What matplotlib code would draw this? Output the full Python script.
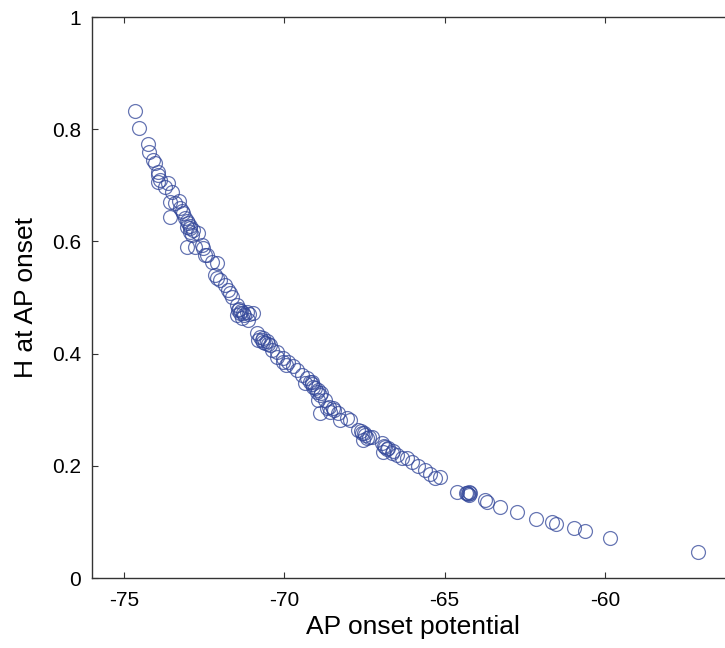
import matplotlib
matplotlib.use("Agg")
import matplotlib.pyplot as plt

plt.rcParams['font.family'] = ['Liberation Sans', 'DejaVu Sans']

# AP onset potential (mV) and H value at onset
onset_v = [
    -74.66, -74.53, -74.25, -74.22, -74.10, -74.04, -73.94, -73.94, -73.88, -73.94,
    -73.63, -73.72, -73.50, -73.57, -73.41, -73.57, -73.26, -73.16, -73.10, -73.00,
    -73.04, -72.94, -72.94, -72.88, -72.70, -73.04, -72.79, -72.54, -72.41,
    -73.05, -72.95, -72.85, -73.20, -73.30,
    -72.57, -72.48, -72.26, -72.10, -72.16, -72.10, -72.00, -71.85, -71.76, -71.70,
    -71.63, -71.48, -71.45, -71.39, -71.48, -71.29, -71.17, -70.98, -71.32, -71.14,
    -71.35, -71.25, -71.10, -71.40,
    -70.86, -70.76, -70.82, -70.67, -70.60, -70.45, -70.39, -70.23, -70.23, -70.04,
    -70.70, -70.65, -70.55, -70.50, -70.05, -69.95,
    -69.89, -69.73, -69.61,
    -69.45, -69.30, -69.36, -69.14, -69.11, -68.98, -68.89, -68.95, -68.73, -68.89,
    -69.20, -69.05, -68.95, -68.85, -69.15,
    -68.67, -68.58, -68.49, -68.33, -68.27, -68.05, -67.96, -67.71, -67.58, -67.49,
    -68.60, -68.45, -67.60, -67.50, -67.35,
    -67.43, -67.55, -67.27, -66.96, -66.86, -66.77, -66.93, -66.64, -66.49, -66.33,
    -66.18, -66.90, -66.80, -66.60,
    -66.02, -65.83, -65.62, -65.46, -65.30, -65.15, -64.62, -64.34, -64.28, -64.21,
    -64.24, -64.30, -64.25,
    -63.75, -63.68, -63.28, -62.75, -62.16, -61.66, -61.53, -60.97, -60.63,
    -59.85, -57.10,
]
h_onset = [
    0.832, 0.802, 0.774, 0.759, 0.745, 0.740, 0.724, 0.718, 0.709, 0.706,
    0.704, 0.697, 0.688, 0.670, 0.668, 0.643, 0.660, 0.651, 0.642, 0.633,
    0.626, 0.624, 0.617, 0.611, 0.615, 0.590, 0.590, 0.588, 0.576,
    0.636, 0.628, 0.620, 0.655, 0.672,
    0.594, 0.576, 0.563, 0.561, 0.540, 0.535, 0.531, 0.522, 0.513, 0.508,
    0.501, 0.487, 0.478, 0.472, 0.469, 0.472, 0.474, 0.472, 0.463, 0.460,
    0.476, 0.468, 0.470, 0.480,
    0.437, 0.430, 0.424, 0.428, 0.419, 0.415, 0.406, 0.403, 0.394, 0.392,
    0.425, 0.420, 0.423, 0.417, 0.385, 0.380,
    0.385, 0.378, 0.371,
    0.362, 0.357, 0.348, 0.349, 0.340, 0.332, 0.326, 0.317, 0.317, 0.294,
    0.350, 0.338, 0.336, 0.330, 0.345,
    0.303, 0.296, 0.303, 0.294, 0.282, 0.285, 0.282, 0.264, 0.258, 0.255,
    0.305, 0.300, 0.262, 0.258, 0.252,
    0.250, 0.246, 0.251, 0.241, 0.234, 0.232, 0.225, 0.223, 0.219, 0.214,
    0.214, 0.236, 0.230, 0.227,
    0.207, 0.200, 0.193, 0.185, 0.178, 0.180, 0.153, 0.152, 0.150, 0.152,
    0.148, 0.151, 0.153,
    0.139, 0.135, 0.127, 0.118, 0.105, 0.100, 0.096, 0.089, 0.084,
    0.071, 0.046,
]
x_ticks = [-75, -70, -65, -60]
y_ticks = [0, 0.2, 0.4, 0.6, 0.8, 1]
y_ticklabels = ['0', '0.2', '0.4', '0.6', '0.8', '1']

fig = plt.figure(figsize=(7.25, 6.48), dpi=100)
# axes run past the right edge, as in the cropped original
ax = fig.add_axes([0.1269, 0.108, 0.8841, 0.8657])

ax.plot(onset_v, h_onset, linestyle='none', marker='o', markersize=10,
        markerfacecolor='none', markeredgecolor='#34489a',
        markeredgewidth=0.9, alpha=0.75)

ax.set_xlim(-76, -56)
ax.set_ylim(0, 1)
ax.set_xticks(x_ticks)
ax.set_xticklabels([str(t) for t in x_ticks])
ax.set_yticks(y_ticks)
ax.set_yticklabels(y_ticklabels)

ax.tick_params(direction='in', length=4, width=0.8, color='#333333',
               top=True, right=True, labelsize=15, labelcolor='black')
ax.tick_params(axis='x', pad=9)
ax.tick_params(axis='y', pad=8)
for sp in ax.spines.values():
    sp.set_color('#333333')
    sp.set_linewidth(1.0)

ax.set_xlabel('AP onset potential', fontsize=19, labelpad=4)
ax.set_ylabel('H at AP onset', fontsize=19, labelpad=10)

fig.savefig('out.png', dpi=100)
